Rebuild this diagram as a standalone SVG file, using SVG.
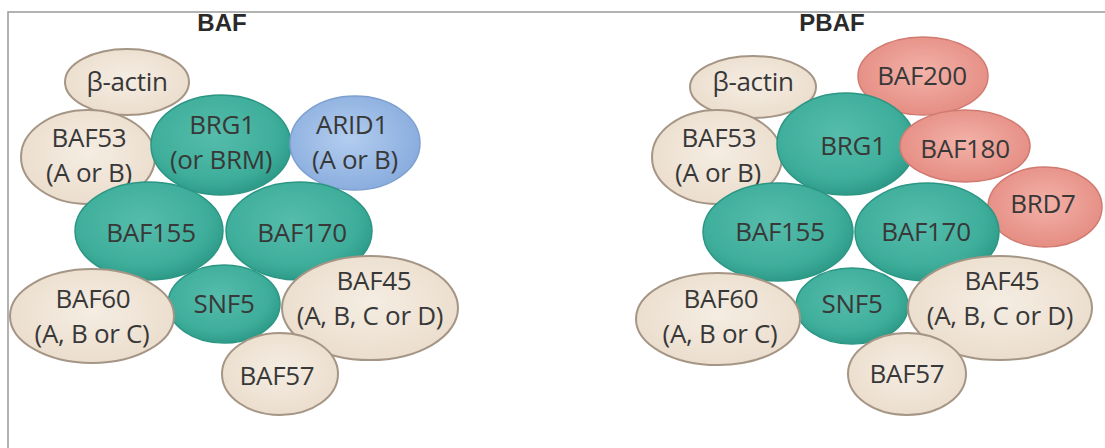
<svg xmlns="http://www.w3.org/2000/svg" width="1105" height="448" viewBox="0 0 1105 448">
<defs>
<radialGradient id="gTeal" cx="0.45" cy="0.4" r="0.6">
<stop offset="0" stop-color="#56bcab"/><stop offset="0.75" stop-color="#3eae9b"/><stop offset="1" stop-color="#2e9b89"/>
</radialGradient>
<radialGradient id="gBeige" cx="0.5" cy="0.45" r="0.6">
<stop offset="0" stop-color="#f5ede3"/><stop offset="1" stop-color="#eadccb"/>
</radialGradient>
<radialGradient id="gBlue" cx="0.45" cy="0.45" r="0.6">
<stop offset="0" stop-color="#b3cdef"/><stop offset="1" stop-color="#87abdd"/>
</radialGradient>
<radialGradient id="gRed" cx="0.5" cy="0.45" r="0.6">
<stop offset="0" stop-color="#f3b2a8"/><stop offset="1" stop-color="#e48a80"/>
</radialGradient>
</defs>
<style>
.teal{fill:url(#gTeal);stroke:#2c9684;stroke-width:1.5}
.beige{fill:url(#gBeige);stroke:#a59585;stroke-width:2}
.blue{fill:url(#gBlue);stroke:#7c9fd0;stroke-width:1.5}
.red{fill:url(#gRed);stroke:#d07a70;stroke-width:1.5}
text{font-family:"Open Sans","Liberation Sans",sans-serif;font-size:26px;fill:#383838;text-anchor:middle;letter-spacing:-0.3px}
.title{font-family:"Liberation Sans",Arial,sans-serif;font-weight:bold;font-size:24px;fill:#2a2a2a;letter-spacing:0}
</style>
<rect width="1105" height="448" fill="#ffffff"/>
<g id="frame" fill="none" stroke="#9a9a9a" stroke-width="1.5">
<path d="M8,448 V12 H1105"/>
</g>
<g id="connectors"></g>

<!-- BAF -->
<g id="baf-title"><text class="title" x="222" y="31">BAF</text></g>
<g id="baf-bactin"><ellipse class="beige" cx="127" cy="82" rx="62" ry="33"/><text x="127" y="91">β-actin</text></g>
<g id="baf-baf53"><ellipse class="beige" cx="88" cy="157" rx="67" ry="47"/><text x="89" y="147">BAF53</text><text x="89" y="182">(A or B)</text></g>
<g id="baf-brg1"><ellipse class="teal" cx="221" cy="145" rx="70" ry="50"/><text x="222" y="134">BRG1</text><text x="221" y="169">(or BRM)</text></g>
<g id="baf-arid1"><ellipse class="blue" cx="355" cy="143" rx="65" ry="47"/><text x="352" y="134">ARID1</text><text x="355" y="169">(A or B)</text></g>
<g id="baf-baf155"><ellipse class="teal" cx="149" cy="231" rx="74" ry="49"/><text x="151" y="242">BAF155</text></g>
<g id="baf-baf170"><ellipse class="teal" cx="299" cy="231" rx="73" ry="49"/><text x="302" y="242">BAF170</text></g>
<g id="baf-snf5"><ellipse class="teal" cx="224" cy="304" rx="56" ry="39"/><text x="224" y="313">SNF5</text></g>
<g id="baf-baf60"><ellipse class="beige" cx="92" cy="316" rx="82" ry="47"/><text x="93" y="308">BAF60</text><text x="92" y="343">(A, B or C)</text></g>
<g id="baf-baf45"><ellipse class="beige" cx="370" cy="308" rx="88" ry="52"/><text x="374" y="290">BAF45</text><text x="370" y="325">(A, B, C or D)</text></g>
<g id="baf-baf57"><ellipse class="beige" cx="280" cy="374" rx="58" ry="41"/><text x="277" y="385">BAF57</text></g>

<!-- PBAF -->
<g id="pbaf-title"><text class="title" x="832" y="31">PBAF</text></g>
<g id="pbaf-bactin"><ellipse class="beige" cx="753" cy="87" rx="63" ry="31"/><text x="753" y="91">β-actin</text></g>
<g id="pbaf-baf200"><ellipse class="red" cx="923" cy="76" rx="65" ry="39"/><text x="922" y="85">BAF200</text></g>
<g id="pbaf-brd7"><ellipse class="red" cx="1045" cy="207" rx="57" ry="40"/><text x="1043" y="213">BRD7</text></g>
<g id="pbaf-baf53"><ellipse class="beige" cx="717" cy="157" rx="65" ry="47"/><text x="719" y="147">BAF53</text><text x="718" y="182">(A or B)</text></g>
<g id="pbaf-brg1"><ellipse class="teal" cx="846" cy="144" rx="69" ry="51"/><text x="853" y="155">BRG1</text></g>
<g id="pbaf-baf180"><ellipse class="red" cx="965" cy="146" rx="65" ry="36"/><text x="965" y="158">BAF180</text></g>
<g id="pbaf-baf155"><ellipse class="teal" cx="778" cy="232" rx="75" ry="49"/><text x="780" y="241">BAF155</text></g>
<g id="pbaf-baf170"><ellipse class="teal" cx="927" cy="232" rx="72" ry="49"/><text x="926" y="241">BAF170</text></g>
<g id="pbaf-snf5"><ellipse class="teal" cx="852" cy="306" rx="56" ry="38"/><text x="852" y="313">SNF5</text></g>
<g id="pbaf-baf60"><ellipse class="beige" cx="718" cy="319" rx="82" ry="46"/><text x="721" y="308">BAF60</text><text x="720" y="343">(A, B or C)</text></g>
<g id="pbaf-baf45"><ellipse class="beige" cx="1000" cy="308" rx="92" ry="52"/><text x="1002" y="290">BAF45</text><text x="1000" y="325">(A, B, C or D)</text></g>
<g id="pbaf-baf57"><ellipse class="beige" cx="907" cy="374" rx="59" ry="41"/><text x="907" y="383">BAF57</text></g>
</svg>
